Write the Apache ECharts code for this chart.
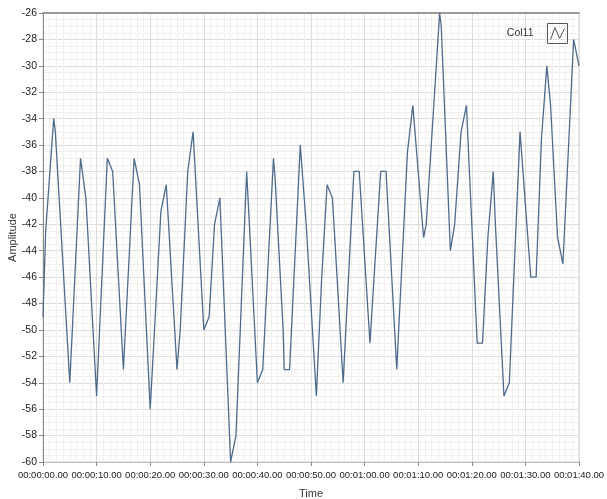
<!DOCTYPE html>
<html>
<head>
<meta charset="utf-8">
<script src="https://cdn.jsdelivr.net/npm/echarts@6/dist/echarts.min.js"></script>
<style>html,body{margin:0;padding:0;background:#fff;}#c{width:607px;height:499px;}</style>
</head>
<body>
<div id="c"></div>
<script>
// Time (seconds) of each vertex
var times = [0, 0.5, 2, 2.3, 5, 7, 8, 10, 12, 13, 15, 17, 18, 20, 22, 23, 25, 25.6, 27, 28,
  30, 31, 32, 33, 35, 36, 38, 40, 41, 43, 43.3, 44.8, 45, 46, 46.3, 48, 49.1, 51, 52, 53,
  54, 56, 58, 59, 61, 63, 64, 66, 68, 69, 71, 71.5, 74, 74.3, 76, 76.8, 78, 79, 81, 82,
  83, 84, 84.4, 86, 87, 89, 91, 92, 93, 94, 94.7, 96, 97, 99, 100];
// Amplitude at each vertex
var amps = [-49, -42.5, -34, -35, -54, -37, -40, -55, -37, -38, -53, -37, -39, -56, -41, -39, -53, -50, -38, -35,
  -50, -49, -42, -40, -60, -58, -38, -54, -53, -37, -38.5, -50, -53, -53, -50.5, -36, -42, -55, -46, -39,
  -40, -54, -38, -38, -51, -38, -38, -53, -36.5, -33, -43, -42, -26, -27, -44, -42, -35, -33, -51, -51,
  -43, -38, -42, -55, -54, -35, -46, -46, -35.5, -30, -33, -43, -45, -28, -30];
var seriesName = 'Col11';
var xTitle = 'Time';
var yTitle = 'Amplitude';

var pts = times.map(function (t, i) { return [t, amps[i]]; });
function pad(n) { return (n < 10 ? '0' : '') + n; }
function fmtTime(s) {
  var m = Math.floor(s / 60), sec = Math.round(s % 60);
  return '00:' + pad(m) + ':' + pad(sec) + '.00';
}
var FONT = "'Liberation Sans', Arial, sans-serif";
var chart = echarts.init(document.getElementById('c'), null, {renderer: 'canvas'});
chart.setOption({
  animation: false,
  backgroundColor: '#ffffff',
  grid: {left: 43, right: 28, top: 13, bottom: 37, show: true, borderColor: '#d0d0d0', borderWidth: 1,
    backgroundColor: '#ffffff', containLabel: false, outerBoundsMode: 'none'},
  legend: {
    right: 34, top: 18, align: 'right',
    icon: 'path://M0,0H20V20H0Z M3,16L7.5,4L12,15L17,5',
    itemWidth: 20, itemHeight: 20,
    itemStyle: {color: 'transparent', borderColor: '#555', borderWidth: 1},
    lineStyle: {width: 0},
    textStyle: {fontFamily: FONT, fontSize: 10.5, color: '#333', padding: [0, 9, 0, 0]},
    data: [seriesName]
  },
  xAxis: [{
    type: 'value', min: 0, max: 100, interval: 10,
    name: xTitle, nameLocation: 'middle', nameGap: 26, nameMoveOverlap: false,
    nameTextStyle: {fontFamily: FONT, fontSize: 11, color: '#333'},
    axisLine: {show: true, lineStyle: {color: '#bdbdbd'}},
    axisTick: {show: true, length: 4, lineStyle: {color: '#888'}},
    axisLabel: {formatter: fmtTime, fontFamily: FONT, fontSize: 9.5, color: '#222', margin: 8, showMaxLabel: true, showMinLabel: true},
    splitLine: {show: true, lineStyle: {color: '#dcdcdc', width: 1}},
    minorTick: {show: false, splitNumber: 8},
    minorSplitLine: {show: true, lineStyle: {color: '#f0f0f0', width: 1}}
  }, {
    type: 'value', min: 0, max: 100, position: 'top',
    axisLine: {show: true, lineStyle: {color: '#9a9a9a', width: 2}},
    axisTick: {show: false}, axisLabel: {show: false}, splitLine: {show: false}
  }],
  yAxis: {
    type: 'value', min: -60, max: -26, interval: 2,
    name: yTitle, nameLocation: 'middle', nameGap: 25, nameRotate: 90, nameMoveOverlap: false,
    nameTextStyle: {fontFamily: FONT, fontSize: 11, color: '#333'},
    axisLine: {show: true, lineStyle: {color: '#8a8a8a'}},
    axisTick: {show: true, length: 4, lineStyle: {color: '#888'}},
    axisLabel: {fontFamily: FONT, fontSize: 10.5, color: '#222', margin: 6},
    splitLine: {show: true, lineStyle: {color: '#dcdcdc', width: 1}},
    minorTick: {show: false, splitNumber: 4},
    minorSplitLine: {show: true, lineStyle: {color: '#f0f0f0', width: 1}}
  },
  series: [{
    name: seriesName, type: 'line', data: pts, showSymbol: false, symbol: 'none',
    lineStyle: {color: '#4d6b8a', width: 1.3},
    itemStyle: {color: '#4d6b8a'}
  }]
});
</script>
</body>
</html>
